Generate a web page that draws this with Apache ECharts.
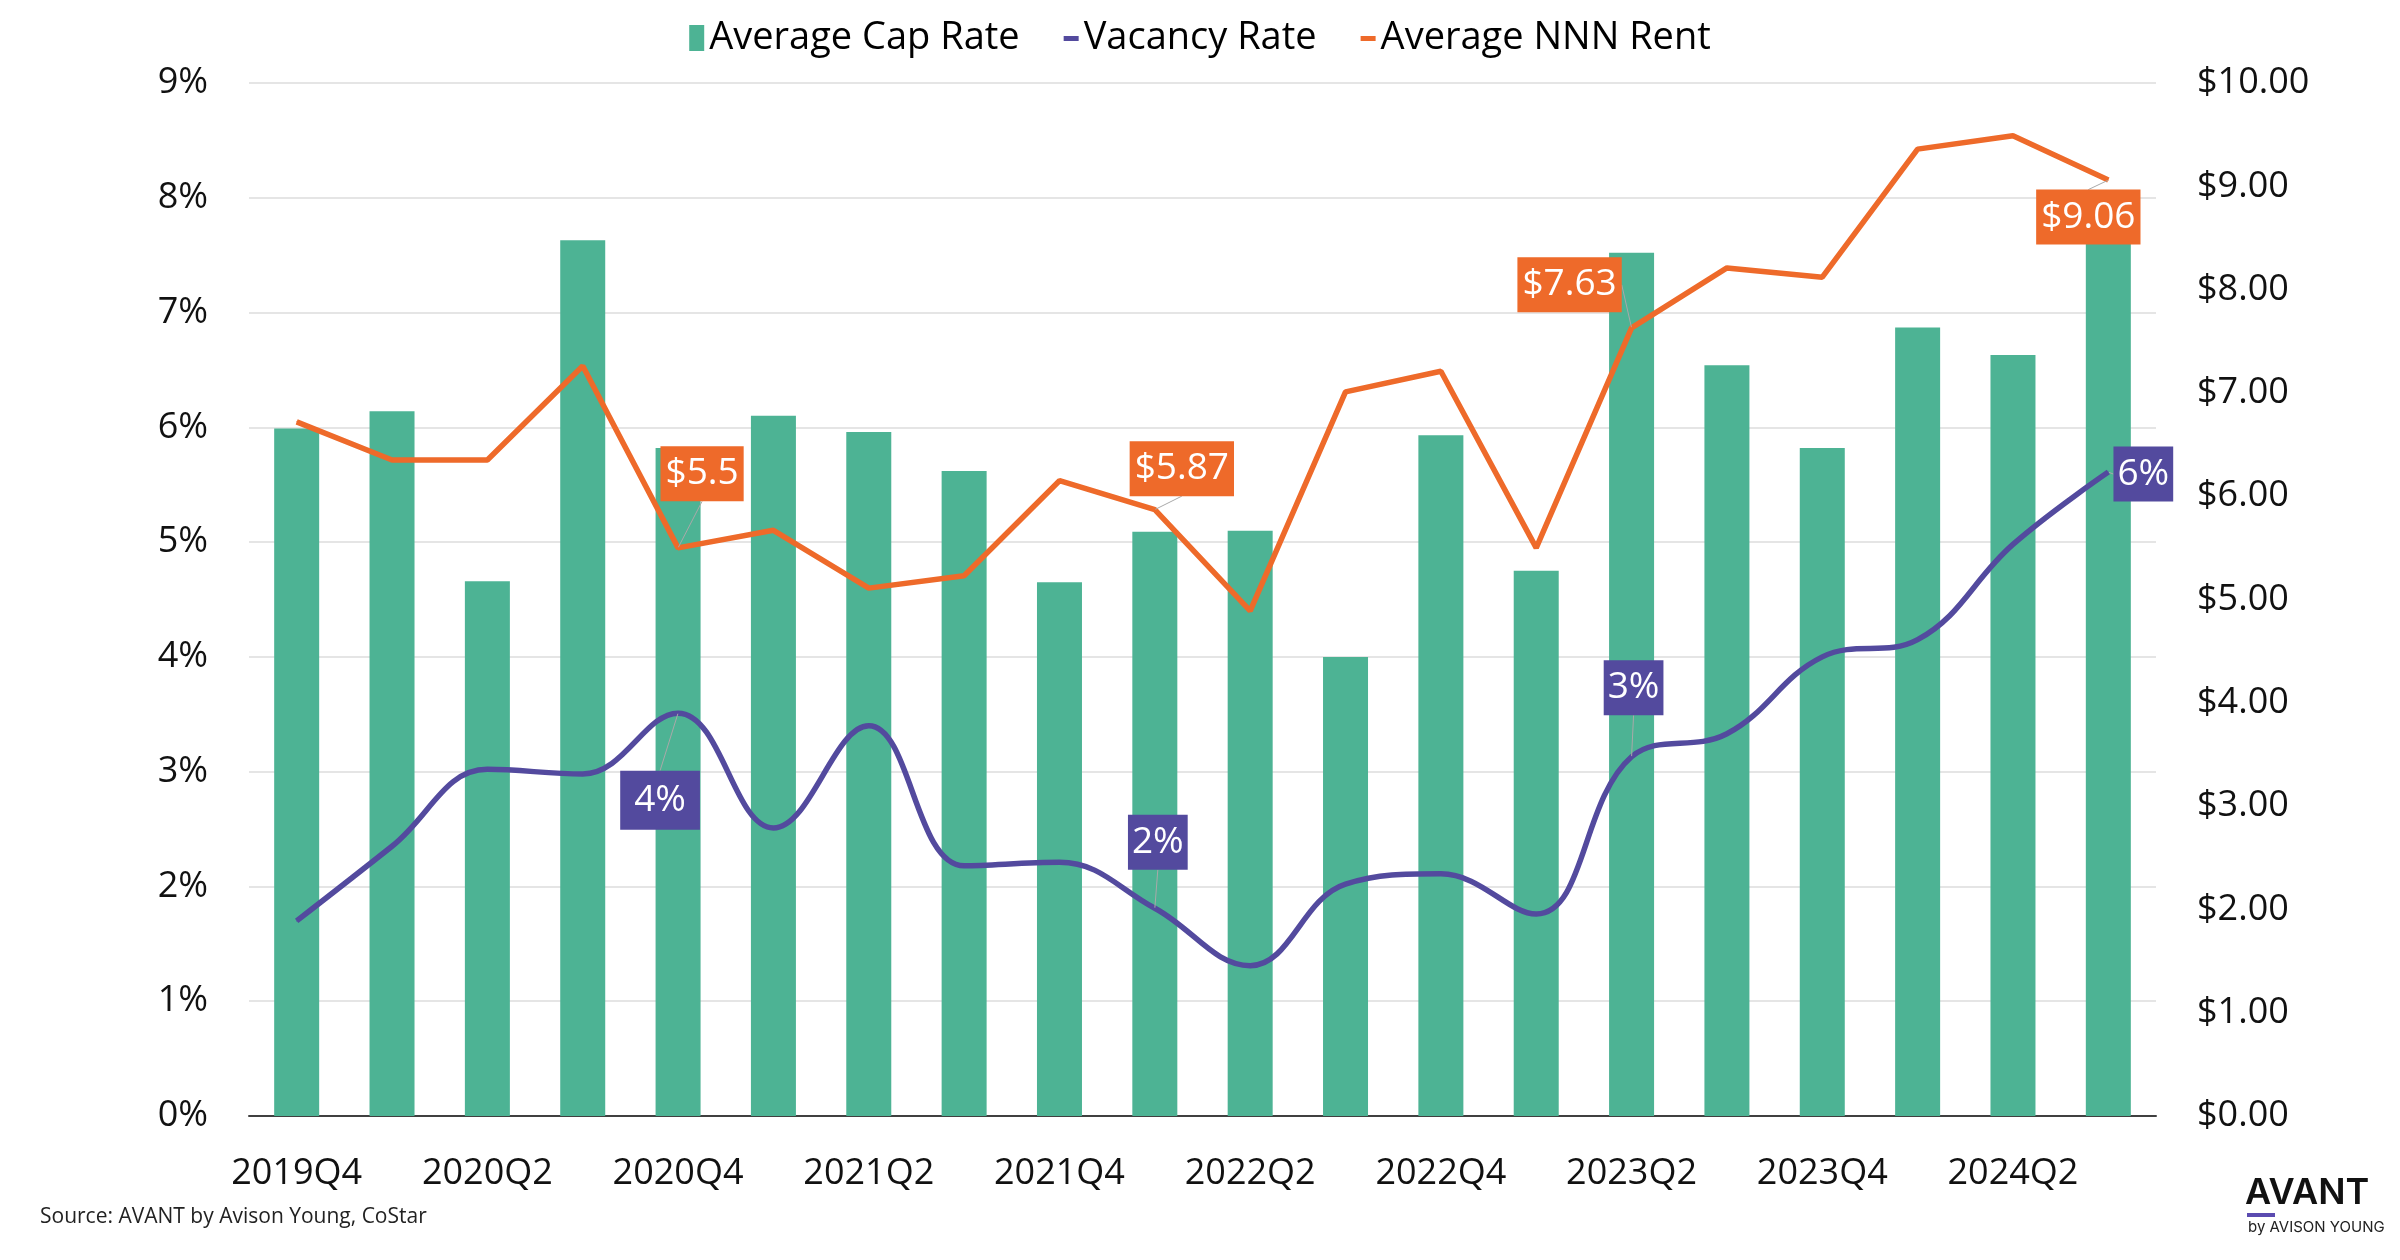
<!DOCTYPE html>
<html>
<head>
<meta charset="utf-8">
<script src="https://cdn.jsdelivr.net/npm/echarts@6/dist/echarts.min.js"></script>
<style>
html,body{margin:0;padding:0;background:#fff;}
#chart{width:2400px;height:1260px;}
</style>
</head>
<body>
<div id="chart"></div>
<script>
// ---- data ----
const categories = ['2019Q4','2020Q1','2020Q2','2020Q3','2020Q4','2021Q1','2021Q2','2021Q3','2021Q4','2022Q1','2022Q2','2022Q3','2022Q4','2023Q1','2023Q2','2023Q3','2023Q4','2024Q1','2024Q2','2024Q3'];
const capRate = [5.99, 6.14, 4.66, 7.63, 5.82, 6.10, 5.96, 5.62, 4.65, 5.09, 5.10, 4.00, 5.93, 4.75, 7.52, 6.54, 5.82, 6.87, 6.63, 7.75];
const vacancyRate = [1.70, 2.35, 3.02, 2.98, 3.51, 2.51, 3.40, 2.18, 2.21, 1.81, 1.31, 2.02, 2.11, 1.76, 3.13, 3.33, 4.00, 4.15, 4.98, 5.61];
const nnnRent = [6.72, 6.35, 6.35, 7.26, 5.50, 5.67, 5.11, 5.23, 6.15, 5.87, 4.89, 7.01, 7.21, 5.50, 7.63, 8.21, 8.12, 9.36, 9.49, 9.06];
const labeledIdx = [4, 9, 14, 19];
const leftTicks = [0,1,2,3,4,5,6,7,8,9];
const rightTicks = [0,1,2,3,4,5,6,7,8,9,10];

// ---- label placement (layout only) ----
const rentOffsets = {4:[24,-74], 9:[27,-41], 14:[-62,-43], 19:[-20,37]};
const vacOffsets = {4:[-18,87], 9:[3,-66], 14:[2,-69], 19:[35,2]};

const GREEN = '#4DB394', PURPLE = '#534A9E', ORANGE = '#EE6A2A';
const FONT = 'Open Sans';

function lineData(arr, extraLabel) {
  return arr.map((v, i) => labeledIdx.includes(i)
    ? {value: v, label: Object.assign({show: true}, extraLabel ? extraLabel(i) : {})}
    : {value: v});
}

const chart = echarts.init(document.getElementById('chart'), null, {renderer: 'canvas'});
chart.setOption({
  backgroundColor: '#ffffff',
  animation: false,
  textStyle: {fontFamily: FONT},
  legend: {
    top: 14, left: 'center',
    itemGap: 44, itemWidth: 15, itemHeight: 26,
    textStyle: {fontSize: 38, color: '#000', fontFamily: FONT},
    data: [
      {name: 'Average Cap Rate', icon: 'rect'},
      {name: 'Vacancy Rate', icon: 'path://M0,0L0,0M0,11L15,11L15,16L0,16ZM0,26L0,26'},
      {name: 'Average NNN Rent', icon: 'path://M0,0L0,0M0,11L15,11L15,16L0,16ZM0,26L0,26'}
    ]
  },
  grid: {left: 249, right: 244, top: 83, bottom: 144},
  xAxis: {
    type: 'category',
    data: categories,
    axisTick: {show: false},
    axisLine: {lineStyle: {color: '#404040', width: 2}},
    axisLabel: {interval: 1, fontSize: 36, color: '#111', margin: 40, fontFamily: FONT}
  },
  yAxis: [
    {
      type: 'value', min: leftTicks[0], max: leftTicks[leftTicks.length-1], interval: 1,
      axisLabel: {formatter: '{value}%', fontSize: 36, color: '#111', margin: 41, fontFamily: FONT},
      splitLine: {lineStyle: {color: '#dcdcdc', width: 1.5}},
      axisLine: {show: false}, axisTick: {show: false}
    },
    {
      type: 'value', min: rightTicks[0], max: rightTicks[rightTicks.length-1], interval: 1,
      position: 'right',
      axisLabel: {formatter: v => '$' + v.toFixed(2), fontSize: 36, color: '#111', margin: 41, fontFamily: FONT},
      splitLine: {show: false},
      axisLine: {show: false}, axisTick: {show: false}
    }
  ],
  series: [
    {
      name: 'Average Cap Rate', type: 'bar', yAxisIndex: 0,
      data: capRate, barWidth: 45,
      itemStyle: {color: GREEN}
    },
    {
      name: 'Vacancy Rate', type: 'line', yAxisIndex: 0,
      data: lineData(vacancyRate, i => i === 4 ? {padding: [11, 14]} : {}),
      smooth: 0.4,
      symbol: 'circle', symbolSize: 1, showSymbol: true,
      lineStyle: {color: PURPLE, width: 5.5},
      itemStyle: {color: PURPLE},
      label: {
        show: false, position: 'inside',
        formatter: p => Math.round(p.value) + '%',
        backgroundColor: PURPLE, color: '#fff', fontSize: 37, fontFamily: FONT,
        padding: [9, 4], lineHeight: 37
      },
      labelLine: {show: true, lineStyle: {color: '#a9a9a9', width: 1}},
      labelLayout: p => { const o = vacOffsets[p.dataIndex]; return o ? {dx: o[0], dy: o[1]} : {}; },
      z: 3
    },
    {
      name: 'Average NNN Rent', type: 'line', yAxisIndex: 1,
      data: lineData(nnnRent),
      smooth: false,
      symbol: 'circle', symbolSize: 1, showSymbol: true,
      lineStyle: {color: ORANGE, width: 5.5},
      itemStyle: {color: ORANGE},
      label: {
        show: false, position: 'inside',
        formatter: p => '$' + p.value,
        backgroundColor: ORANGE, color: '#fff', fontSize: 37, fontFamily: FONT,
        padding: [9, 5], lineHeight: 37
      },
      labelLine: {show: true, lineStyle: {color: '#a9a9a9', width: 1}},
      labelLayout: p => { const o = rentOffsets[p.dataIndex]; return o ? {dx: o[0], dy: o[1]} : {}; },
      z: 4
    }
  ],
  graphic: [
    {type: 'text', left: 40, top: 1207, style: {text: 'Source: AVANT by Avison Young, CoStar', font: '21px "Open Sans"', fill: '#222'}},
    {type: 'text', left: 2245, top: 1175, style: {text: 'AVANT', font: '600 36px Inter', fill: '#111'}},
    {type: 'rect', left: 2247, top: 1213, shape: {width: 28, height: 4}, style: {fill: '#5B4BB0'}},
    {type: 'text', left: 2248, top: 1220, style: {text: 'by AVISON YOUNG', font: '15px Inter', fill: '#222'}}
  ]
});
</script>
</body>
</html>
